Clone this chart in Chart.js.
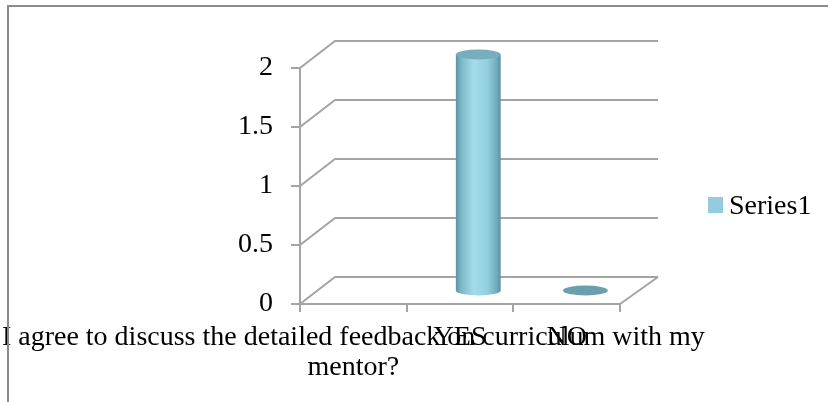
<!DOCTYPE html>
<html>
<head>
<meta charset="utf-8">
<title>Series1</title>
<script src="https://cdn.jsdelivr.net/npm/chart.js@4.4.1/dist/chart.umd.min.js"></script>
<style>
    html, body { margin: 0; padding: 0; background: #fff; }
    #wrap { position: relative; width: 828px; height: 402px; }
</style>
</head>
<body>
<div id="wrap">
    <canvas id="grafico" width="828" height="402"></canvas>
</div>
<script>
// Dados do gráfico
const categorias = [
    ['I agree to discuss the detailed feedback on curriculum with my', 'mentor?'],
    'YES',
    'NO'
];
const serie1 = [null, 2, 0];
const nomeSerie = 'Series1';
const ticksY = [0, 0.5, 1, 1.5, 2];

// Configuração global
Chart.defaults.font.family = "'Liberation Serif', 'Times New Roman', serif";
Chart.defaults.font.size = 28;
Chart.defaults.color = '#000';

const corGrade = '#a4a4a4';
const corLegenda = '#93cddd';
const profundidade = { esq: 35, dir: 38, y: 27 };

/**
 * Desenha a parede de fundo, o piso e o quadro (efeito 3D)
 */
const fundo3d = {
    id: 'fundo3d',
    beforeDatasetsDraw(chart) {
        const { ctx, chartArea: a, scales: { y } } = chart;
        ctx.save();
        ctx.strokeStyle = corGrade;
        ctx.lineWidth = 2;
        ctx.beginPath();
        ticksY.forEach(v => {
            const py = y.getPixelForValue(v);
            ctx.moveTo(a.left, py);
            ctx.lineTo(a.left + profundidade.esq, py - profundidade.y);
            ctx.lineTo(a.right + profundidade.dir, py - profundidade.y);
        });
        // lateral direita do piso
        const base = y.getPixelForValue(0);
        ctx.moveTo(a.right, base);
        ctx.lineTo(a.right + profundidade.dir, base - profundidade.y);
        ctx.stroke();
        ctx.restore();
    },
    // as barras normais não são desenhadas, só os cilindros
    beforeDatasetDraw() {
        return false;
    },
    afterDatasetsDraw(chart) {
        const { ctx, chartArea: a, scales: { y } } = chart;
        const meta = chart.getDatasetMeta(0);
        const base = y.getPixelForValue(0);
        meta.data.forEach((bar, i) => {
            if (serie1[i] === null || serie1[i] === undefined) return;
            const t = (bar.x - a.left) / (a.right - a.left);
            const dx = (profundidade.esq + (profundidade.dir - profundidade.esq) * t) / 2;
            const dy = profundidade.y / 2;
            const cx = bar.x + dx;
            const topo = bar.y - dy;
            const fundoY = base - dy;
            const rx = bar.width / 2;
            const ry = 5;
            ctx.save();
            if (fundoY - topo > 1) {
                const grad = ctx.createLinearGradient(cx - rx, 0, cx + rx, 0);
                grad.addColorStop(0, '#5b94a4');
                grad.addColorStop(0.12, '#7cb8c8');
                grad.addColorStop(0.4, '#a4dcea');
                grad.addColorStop(0.7, '#93cfdf');
                grad.addColorStop(0.9, '#74aebe');
                grad.addColorStop(1, '#5a8f9f');
                ctx.fillStyle = grad;
                ctx.beginPath();
                ctx.moveTo(cx - rx, topo);
                ctx.lineTo(cx - rx, fundoY);
                ctx.ellipse(cx, fundoY, rx, ry, 0, Math.PI, 0, true);
                ctx.lineTo(cx + rx, topo);
                ctx.closePath();
                ctx.fill();
                ctx.fillStyle = '#78adbc';
            } else {
                ctx.fillStyle = '#6b9fae';
            }
            ctx.beginPath();
            ctx.ellipse(cx, topo, rx, ry, 0, 0, Math.PI * 2);
            ctx.fill();
            ctx.restore();
        });
    },
    afterDraw(chart) {
        const { ctx } = chart;
        ctx.save();
        // legenda
        ctx.fillStyle = corLegenda;
        ctx.fillRect(708, 197, 15, 16);
        ctx.fillStyle = '#000';
        ctx.font = Chart.defaults.font.size + 'px ' + Chart.defaults.font.family;
        ctx.textBaseline = 'alphabetic';
        ctx.fillText(chart.data.datasets[0].label, 729, 214);
        // quadro
        ctx.fillStyle = '#8a8a8a';
        ctx.fillRect(7, 5, 821, 2);
        ctx.fillRect(7, 5, 2, 397);
        ctx.restore();
    }
};

const grafico = new Chart(document.getElementById('grafico'), {
    type: 'bar',
    data: {
        labels: categorias,
        datasets: [{
            label: nomeSerie,
            data: serie1,
            backgroundColor: corLegenda,
            categoryPercentage: 1,
            barPercentage: 0.42
        }]
    },
    options: {
        responsive: false,
        animation: false,
        layout: {
            padding: { left: 0, top: 68, right: 208, bottom: 0 }
        },
        plugins: {
            legend: { display: false },
            tooltip: { enabled: false }
        },
        scales: {
            x: {
                grid: {
                    display: true,
                    drawOnChartArea: false,
                    drawTicks: true,
                    tickLength: 8,
                    color: corGrade,
                    lineWidth: 2
                },
                border: { display: true, color: corGrade, width: 2 },
                ticks: {
                    autoSkip: false,
                    maxRotation: 0,
                    minRotation: 0,
                    padding: 11,
                    font: { lineHeight: 30 / 28 }
                },
                afterFit(scale) {
                    scale.paddingLeft = 0;
                    scale.paddingRight = 0;
                    scale.height = 98;
                }
            },
            y: {
                min: 0,
                max: 2,
                ticks: {
                    stepSize: 0.5,
                    padding: 18,
                    callback: value => String(value)
                },
                grid: {
                    display: true,
                    drawOnChartArea: false,
                    drawTicks: true,
                    tickLength: 9,
                    color: corGrade,
                    lineWidth: 2
                },
                border: { display: true, color: corGrade, width: 2 },
                afterFit(scale) {
                    scale.width = 300;
                }
            }
        }
    },
    plugins: [fundo3d]
});
</script>
</body>
</html>
